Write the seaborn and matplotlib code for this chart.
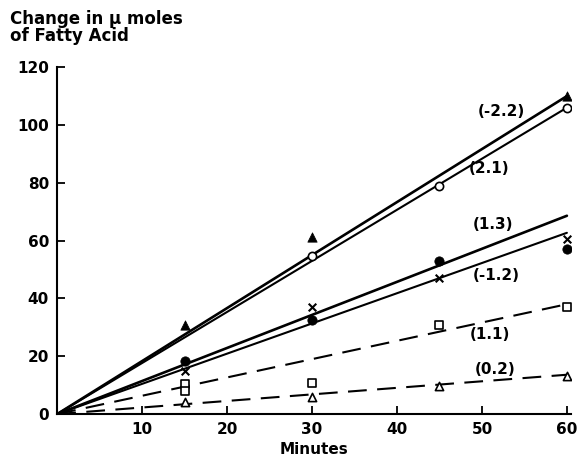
import numpy as np
import pandas as pd
import matplotlib
matplotlib.use("Agg")
import matplotlib.pyplot as plt
import seaborn as sns

# measured points (minutes, change in umoles fatty acid)
tri_x = [15, 30, 60]
tri_y = [30.7, 61.4, 110]
ocirc_x = [30, 45, 60]
ocirc_y = [54.8, 79, 106]
fcirc_x = [15, 30, 45, 60]
fcirc_y = [18.3, 32.4, 52.8, 57]
cross_x = [15, 30, 45, 60]
cross_y = [15, 36.9, 47, 60.7]
sq_x = [15, 15, 30, 45, 60]
sq_y = [10.3, 8, 10.7, 30.7, 37]
otri_x = [15, 30, 45, 60]
otri_y = [4, 5.9, 9.7, 13]

# fitted lines through origin, value reached at 60 min
fit_labels = ["(-2.2)", "(2.1)", "(1.3)", "(-1.2)", "(1.1)", "(0.2)"]
fit_end = [110, 106, 68.6, 62.7, 38, 13.6]
label_x = [52.3, 50.8, 51.3, 51.7, 50.9, 51.5]
label_y = [104.5, 85, 65.5, 48, 27.6, 15.5]

sns.set_style("ticks", {'xtick.direction': 'in', 'ytick.direction': 'in'})
plt.rcParams['font.family'] = ['DejaVu Sans']
plt.rcParams['text.color'] = 'black'
plt.rcParams['axes.labelcolor'] = 'black'
plt.rcParams['xtick.color'] = 'black'
plt.rcParams['ytick.color'] = 'black'
plt.rcParams['axes.edgecolor'] = 'black'

fig = plt.figure(figsize=(5.84, 4.57), dpi=100)
ax = fig.add_axes([0.098, 0.094, 0.88, 0.759])

line_t = [0, 60]
for i, (lab, end) in enumerate(zip(fit_labels, fit_end)):
    df = pd.DataFrame({'t': line_t, 'v': [0, end]})
    dashed = lab in ("(1.1)", "(0.2)")
    lw = 1.9 if lab in ("(-2.2)", "(1.3)") else 1.5
    sns.lineplot(data=df, x='t', y='v', ax=ax, color='black', lw=lw,
                 linestyle=(0, (9, 5)) if dashed else '-')
    ax.text(label_x[i], label_y[i], lab, ha='center', va='center',
            fontsize=11, fontweight='bold')

sns.scatterplot(x=tri_x, y=tri_y, ax=ax, marker='^', color='black', s=45, edgecolor='black', zorder=5)
sns.scatterplot(x=ocirc_x, y=ocirc_y, ax=ax, marker='o', color='white', s=35, edgecolor='black', linewidth=1.2, zorder=5)
sns.scatterplot(x=fcirc_x, y=fcirc_y, ax=ax, marker='o', color='black', s=45, edgecolor='black', zorder=5)
sns.scatterplot(x=cross_x, y=cross_y, ax=ax, marker='x', color='black', s=30, linewidth=1.5, zorder=5)
sns.scatterplot(x=sq_x, y=sq_y, ax=ax, marker='s', color='white', s=30, edgecolor='black', linewidth=1.2, zorder=5)
sns.scatterplot(x=otri_x, y=otri_y, ax=ax, marker='^', color='white', s=35, edgecolor='black', linewidth=1.2, zorder=5)

ax.set_xlim(0, 60.5)
ax.set_ylim(0, 120)
ax.set_xticks([10, 20, 30, 40, 50, 60])
ax.set_yticks([0, 20, 40, 60, 80, 100, 120])
ax.tick_params(direction='in', length=6, width=1.3, labelsize=11, pad=6)
for t in ax.get_xticklabels() + ax.get_yticklabels():
    t.set_fontweight('bold')
sns.despine(ax=ax)
ax.spines['left'].set_linewidth(1.5)
ax.spines['bottom'].set_linewidth(1.5)
ax.set_xlabel("Minutes", fontsize=11, fontweight='bold', labelpad=3)
ax.set_ylabel("")

fig.text(0.017, 0.978, "Change in μ moles\nof Fatty Acid", ha='left', va='top',
         fontsize=12, fontweight='bold', linespacing=0.9)

fig.savefig("out.png", dpi=100)
